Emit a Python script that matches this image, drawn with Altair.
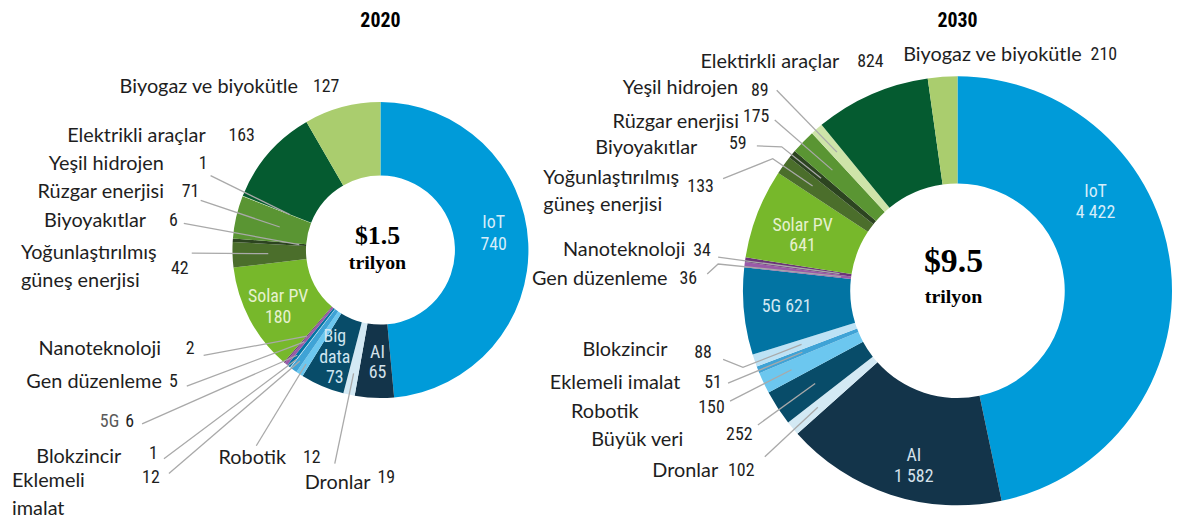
import math
import altair as alt
import pandas as pd

# ---------------- data ----------------
keys = ["IoT", "AI", "Dronlar", "Big data", "Robotik", "Eklemeli imalat", "Blokzincir", "5G",
        "Gen düzenleme", "Nanoteknoloji", "Solar PV", "Yoğunlaştırılmış güneş enerjisi",
        "Biyoyakıtlar", "Rüzgar enerjisi", "Yeşil hidrojen", "Elektrikli araçlar", "Biyogaz ve biyokütle"]
values_2020 = [740, 65, 19, 73, 12, 12, 1, 6, 5, 2, 180, 42, 6, 71, 1, 163, 127]
values_2030 = [4422, 1582, 102, 252, 150, 51, 88, 621, 36, 34, 641, 133, 59, 175, 89, 824, 210]
names_2020 = ["IoT", "AI", "Dronlar", "Big\ndata", "Robotik", "Eklemeli\nimalat", "Blokzincir", "5G",
              "Gen düzenleme", "Nanoteknoloji", "Solar PV", "Yoğunlaştırılmış\ngüneş enerjisi",
              "Biyoyakıtlar", "Rüzgar enerjisi", "Yeşil hidrojen", "Elektrikli araçlar", "Biyogaz ve biyokütle"]
names_2030 = ["IoT", "AI", "Dronlar", "Büyük veri", "Robotik", "Eklemeli imalat", "Blokzincir", "5G",
              "Gen düzenleme", "Nanoteknoloji", "Solar PV", "Yoğunlaştırılmış\ngüneş enerjisi",
              "Biyoyakıtlar", "Rüzgar enerjisi", "Yeşil hidrojen", "Elektirkli araçlar", "Biyogaz ve biyokütle"]
totals = {"2020": "$1.5", "2030": "$9.5"}
unit = "trilyon"
years = ["2020", "2030"]

colors = ["#009bd9", "#13344a", "#d3e9f4", "#084c69", "#6cc7ef", "#3fa3d6", "#bde2f5", "#0274a3",
          "#9a5aa8", "#6b3479", "#77b82b", "#4b6e2b", "#2c4420", "#5a9533", "#cee4a9", "#055b30", "#aacd6e"]

# ---------------- layout (image pixel coordinates) ----------------
W, H = 1181, 522
DONUT = {"2020": dict(cx=383, cy=250, r=149, r0=75),
         "2030": dict(cx=964, cy=291, r=216, r0=108)}
TITLE_Y = 19
NAME_FONT = "Lato"
NUM_FONT = "Roboto Condensed, Liberation Sans Narrow, Roboto"
SERIF = "Liberation Serif"
NAME_SIZE = 20
NUM_SIZE = 18
INNER_SIZE = 18
LINE_GAP = 28

# key -> (align, name_x, name_y, num_x, num_y, leader start points, end radius)
EXT = {
    "2020": {
        "Biyogaz ve biyokütle": ("right", 300, 86, 315, 86, [], None),
        "Elektrikli araçlar": ("right", 207, 135, 230, 135, [], None),
        "Yeşil hidrojen": ("right", 165, 163, 200, 163, [(212, 175)], 98),
        "Rüzgar enerjisi": ("right", 165, 192, 183, 192, [(202, 200)], 104),
        "Biyoyakıtlar": ("right", 147, 221, 170, 221, [(185, 223)], 82),
        "Yoğunlaştırılmış güneş enerjisi": ("left", 21, 253, 172, 269, [(193, 253)], 113),
        "Nanoteknoloji": ("right", 162, 350, 187, 350, [(205, 356)], 114),
        "Gen düzenleme": ("right", 163, 383, 170, 383, [(188, 387)], 120),
        "5G": ("right", 120, 423, 126, 423, [(143, 425)], 135),
        "Blokzincir": ("right", 122, 458, 150, 455, [(165, 460)], 139),
        "Eklemeli imalat": ("left", 12, 483, 143, 479, [(170, 475)], 138),
        "Robotik": ("right", 288, 459, 305, 459, [(258, 447)], 137),
        "Dronlar": ("right", 373, 485, 380, 480, [(337, 465)], 127),
    },
    "2030": {
        "Elektrikli araçlar": ("right", 845, 61, 863, 61, [], None),
        "Biyogaz ve biyokütle": ("right", 1089, 54, 1098, 54, [], None),
        "Yeşil hidrojen": ("right", 743, 87, 756, 90, [(782, 89)], 185),
        "Rüzgar enerjisi": ("right", 744, 121, 748, 116, [(780, 119)], 175),
        "Biyoyakıtlar": ("right", 702, 147, 734, 143, [(762, 145), (787, 146)], 178),
        "Yoğunlaştırılmış güneş enerjisi": ("left", 547, 177, 692, 187, [(728, 178), (778, 158)], 180),
        "Nanoteknoloji": ("right", 690, 250, 698, 251, [(723, 257)], 120),
        "Gen düzenleme": ("right", 672, 279, 684, 279, [(712, 274), (723, 264)], 118),
        "Blokzincir": ("right", 672, 351, 699, 354, [(728, 360), (748, 368)], 166),
        "Eklemeli imalat": ("right", 685, 384, 709, 384, [(733, 384)], 168),
        "Robotik": ("right", 643, 413, 703, 409, [(735, 402)], 185),
        "Big data": ("right", 688, 441, 731, 436, [(763, 426)], 171),
        "Dronlar": ("right", 723, 472, 733, 472, [(770, 458)], 183),
    },
}
# inside labels: key -> (x, y first line, line gap, text color)
INNER = {
    "2020": {
        "IoT": (497, 223, 22, "#d6edf9"),
        "Solar PV": (280, 297, 21, "#e6f1cf"),
        "Big data": (337, 338, 20.5, "#cfe6f1"),
        "AI": (380, 354, 20, "#d5e1ea"),
    },
    "2030": {
        "IoT": (1103, 192, 21, "#d6edf9"),
        "Solar PV": (808, 226, 20, "#e6f1cf"),
        "5G": (792, 307, 0, "#d3e8f2"),
        "AI": (920, 457, 21, "#d5e1ea"),
    },
}
CENTER_TXT = {"2020": (380, 236, 26, 263, 20), "2030": (960, 262, 34, 297, 20)}


def fmt(v):
    return f"{v:,}".replace(",", " ")


# ---------------- build tables ----------------
arc_frames = []
lead_rows, name_rows, num_rows, inner_rows, center_rows = [], [], [], [], []
for yr, vals, names in [("2020", values_2020, names_2020), ("2030", values_2030, names_2030)]:
    d = DONUT[yr]
    arc_frames.append(pd.DataFrame({"key": keys, "v": vals, "i": range(len(keys))}))
    tot = sum(vals)
    cum = 0
    mids = {}
    for k, v in zip(keys, vals):
        mids[k] = (cum + v / 2) / tot * 2 * math.pi
        cum += v
    for k, (al, nx, ny, ux, uy, pts, rr) in EXT[yr].items():
        idx = keys.index(k)
        lines = names[idx].split("\n")
        for j, ln in enumerate(lines):
            col = "#5a5a5a" if (k == "5G") else "#1e1e1e"
            font_kind = "num" if k == "5G" else "name"
            name_rows.append(dict(t=ln, x=nx, y=ny + j * LINE_GAP, al=al, c=col, f=font_kind))
        num_rows.append(dict(t=fmt(vals[idx]), x=ux, y=uy))
        if pts:
            a = mids[k]
            ex = d["cx"] + rr * math.sin(a)
            ey = d["cy"] - rr * math.cos(a)
            allp = list(pts) + [(ex, ey)]
            for s, (px, py) in enumerate(allp):
                lead_rows.append(dict(id=f"{yr}-{k}", s=s, x=px, y=py))
    for k, (x, y, gap, col) in INNER[yr].items():
        idx = keys.index(k)
        txt = names[idx] + ("\n" if gap else " ") + fmt(vals[idx])
        for j, ln in enumerate(txt.split("\n")):
            inner_rows.append(dict(t=ln, x=x, y=y + j * gap, c=col))
    cx_, cy1, s1, cy2, s2 = CENTER_TXT[yr]
    center_rows.append(dict(t=totals[yr], x=cx_, y=cy1, s=s1))
    center_rows.append(dict(t=unit, x=cx_, y=cy2, s=s2))

title_df = pd.DataFrame({"t": years, "x": [DONUT[y]["cx"] for y in years], "y": [TITLE_Y, TITLE_Y]})

X = alt.X("x:Q", scale=alt.Scale(domain=[8, W], nice=False, zero=False), axis=None)
Y = alt.Y("y:Q", scale=alt.Scale(domain=[8, H], nice=False, zero=False, reverse=True), axis=None)

layers = []
for yr, df in zip(years, arc_frames):
    d = DONUT[yr]
    layers.append(
        alt.Chart(df).mark_arc(radius=d["r"], radius2=d["r0"], stroke=None).encode(
            theta=alt.Theta("v:Q", stack=True),
            order=alt.Order("i:Q"),
            color=alt.Color("key:N", scale=alt.Scale(domain=keys, range=colors), legend=None),
            x=alt.value(d["cx"] - 8),
            y=alt.value(d["cy"] - 8),
        )
    )

lead = alt.Chart(pd.DataFrame(lead_rows)).mark_line(color="#a9a9a9", strokeWidth=1.3).encode(
    x=X, y=Y, detail="id:N", order="s:Q")
layers.append(lead)

nd = pd.DataFrame(name_rows)
for al in ["left", "right"]:
    for fk, font in [("name", NAME_FONT), ("num", NUM_FONT)]:
        sub = nd[(nd.al == al) & (nd.f == fk)]
        if len(sub):
            layers.append(alt.Chart(sub).mark_text(align=al, baseline="middle", font=font,
                                                   fontSize=NAME_SIZE if fk == "name" else NUM_SIZE).encode(
                x=X, y=Y, text="t:N", color=alt.Color("c:N", scale=None)))

layers.append(alt.Chart(pd.DataFrame(num_rows)).mark_text(
    align="left", baseline="middle", font=NUM_FONT, fontSize=NUM_SIZE, color="#1e1e1e").encode(
    x=X, y=Y, text="t:N"))

layers.append(alt.Chart(pd.DataFrame(inner_rows)).mark_text(
    align="center", baseline="middle", font=NUM_FONT, fontSize=INNER_SIZE).encode(
    x=X, y=Y, text="t:N", color=alt.Color("c:N", scale=None)))

layers.append(alt.Chart(pd.DataFrame(center_rows)).mark_text(
    align="center", baseline="middle", font=SERIF, fontWeight="bold", color="#000000").encode(
    x=X, y=Y, text="t:N", size=alt.Size("s:Q", scale=None)))

layers.append(alt.Chart(title_df).mark_text(
    align="center", baseline="middle", font="Liberation Sans Narrow, Roboto Condensed, Liberation Sans",
    fontWeight="bold", fontSize=20, color="#000000").encode(x=X, y=Y, text="t:N"))

chart = alt.layer(*layers).resolve_scale(theta="independent").properties(
    width=W - 8, height=H - 8, padding=0, autosize=alt.AutoSizeParams(type="none")
).configure_view(stroke=None)

chart.save("out.html", embed_options={"renderer": "svg", "actions": False})
